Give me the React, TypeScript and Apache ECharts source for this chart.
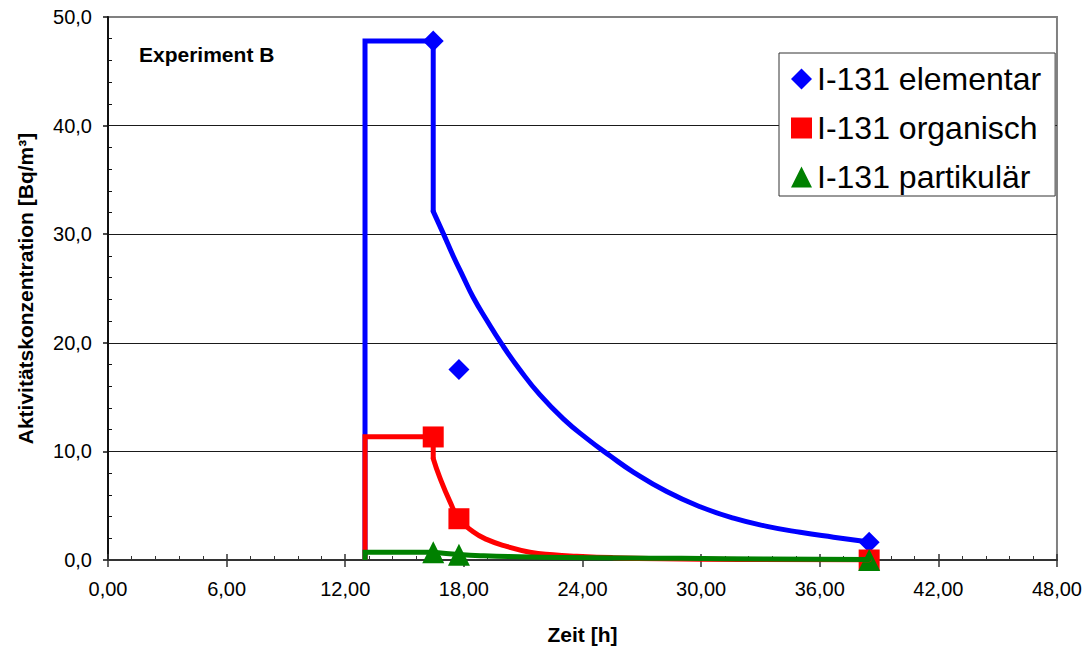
import React, { useEffect, useRef } from 'react';
import * as echarts from 'echarts';

const seriesNames = ['I-131 elementar', 'I-131 organisch', 'I-131 partikulär'];

const xTickLabels = ['0,00', '6,00', '12,00', '18,00', '24,00', '30,00', '36,00', '42,00', '48,00'];
const yTickLabels = ['0,0', '10,0', '20,0', '30,0', '40,0', '50,0'];

// measured samples (time [h])
const sampleTimes = [16.45, 17.75, 38.5];
const elementarValues = [47.8, 17.55, 1.64];
const organischValues = [11.33, 3.8, 0];
const partikularValues = [0.72, 0.48, 0];

// step parts of the fitted curves
const elementarStepX = [13, 13, 16.45, 16.45];
const elementarStepY = [0, 47.8, 47.8, 32.1];
const organischStepX = [13, 13, 16.45, 16.45];
const organischStepY = [0, 11.36, 11.36, 9.34];
const partikularStepX = [13, 13, 16.45];
const partikularStepY = [0, 0.72, 0.72];

// decay parts of the fitted curves
const elementarCurveX = [16.45, 16.95, 17.46, 17.96, 18.47, 19.15, 19.91, 20.84, 21.85, 23.03, 24.21, 25.39, 26.57, 28.26, 29.95, 31.64, 33.33, 35.01, 36.7, 38.5];
const elementarCurveY = [32.1, 30.1, 28.0, 26.1, 24.2, 22.1, 19.9, 17.5, 15.2, 13.0, 11.2, 9.6, 8.1, 6.3, 4.9, 3.85, 3.1, 2.55, 2.1, 1.65];
const organischCurveX = [16.45, 16.78, 17.29, 17.75, 18.47, 19.15, 20.16, 21.34, 22.52, 23.71, 25.5, 28, 32, 38.5];
const organischCurveY = [9.34, 7.6, 5.4, 3.8, 2.6, 1.9, 1.25, 0.72, 0.48, 0.35, 0.22, 0.12, 0.05, 0];
const partikularCurveX = [16.45, 17.75, 19, 20.8, 23, 25.9, 29, 33.3, 38.5];
const partikularCurveY = [0.72, 0.5, 0.38, 0.3, 0.24, 0.19, 0.15, 0.1, 0.05];

const colors = ['#0000FF', '#FF0000', '#008000'];
const symbols = ['diamond', 'rect', 'triangle'];
const symbolSizes = [21, 21, 22];

const FONT = "'Liberation Sans', Arial, sans-serif";

const zip = (xs: number[], ys: number[]) => xs.map((x, i) => [x, ys[i]]);

export default function App() {
  const ref = useRef<HTMLDivElement>(null);

  useEffect(() => {
    if (!ref.current) return;
    const chart = echarts.init(ref.current, null, { renderer: 'svg' });

    const steps = [
      zip(elementarStepX, elementarStepY),
      zip(organischStepX, organischStepY),
      zip(partikularStepX, partikularStepY),
    ];
    const curves = [
      zip(elementarCurveX, elementarCurveY),
      zip(organischCurveX, organischCurveY),
      zip(partikularCurveX, partikularCurveY),
    ];
    const samples = [
      zip(sampleTimes, elementarValues),
      zip(sampleTimes, organischValues),
      zip(sampleTimes, partikularValues),
    ];

    const series: any[] = [];
    for (let i = 0; i < 3; i++) {
      series.push({
        name: seriesNames[i] + ' step',
        type: 'line',
        data: steps[i],
        showSymbol: false,
        symbol: 'none',
        lineStyle: { color: colors[i], width: 5, join: 'miter', cap: 'butt' },
        silent: true,
      });
      series.push({
        name: seriesNames[i] + ' fit',
        type: 'line',
        data: curves[i],
        smooth: 0.5,
        showSymbol: false,
        symbol: 'none',
        lineStyle: { color: colors[i], width: 5, cap: 'round', join: 'round' },
        silent: true,
      });
      series.push({
        name: seriesNames[i],
        type: 'scatter',
        data: samples[i],
        symbol: symbols[i],
        symbolSize: symbolSizes[i],
        itemStyle: { color: colors[i], opacity: 1 },
        silent: true,
      });
    }

    const option: any = {
      animation: false,
      backgroundColor: '#ffffff',
      textStyle: { fontFamily: FONT },
      grid: {
        left: 108,
        right: 28,
        top: 17,
        bottom: 90,
        show: true,
        borderColor: '#808080',
        borderWidth: 2,
        backgroundColor: '#ffffff',
      },
      legend: {
        orient: 'vertical',
        left: 779,
        top: 53,
        itemWidth: 21,
        itemHeight: 21,
        itemGap: 17,
        padding: [10, 14, 3, 12],
        borderColor: '#333333',
        borderWidth: 1,
        backgroundColor: '#ffffff',
        selectedMode: false,
        textStyle: { fontFamily: FONT, fontSize: 32, color: '#000000' },
        data: seriesNames.map((n, i) => ({ name: n, icon: symbols[i] })),
      },
      graphic: [
        {
          type: 'text',
          left: 139,
          top: 44,
          style: {
            text: 'Experiment B',
            font: `bold 21px ${FONT}`,
            fill: '#000000',
          },
        },
      ],
      xAxis: [
        {
          type: 'value',
          min: 0,
          max: 48,
          interval: 6,
          position: 'bottom',
          name: 'Zeit [h]',
          nameLocation: 'middle',
          nameGap: 64,
          nameTextStyle: { fontFamily: FONT, fontSize: 21, fontWeight: 'bold', color: '#000' },
          axisLine: { show: true, onZero: false, lineStyle: { color: '#333333', width: 2 } },
          axisTick: { show: true, inside: false, length: 7, lineStyle: { color: '#333333', width: 1.5 } },
          axisLabel: {
            margin: 19,
            fontFamily: FONT,
            fontSize: 20,
            color: '#000',
            formatter: (v: number) => xTickLabels[Math.round(v / 6)] ?? '',
          },
          splitLine: { show: false },
        },
        {
          type: 'value',
          min: 0,
          max: 48,
          interval: 6,
          position: 'bottom',
          axisLine: { show: false, onZero: false },
          axisTick: { show: true, inside: true, length: 6, lineStyle: { color: '#333333', width: 1.5 } },
          minorTick: { show: true, splitNumber: 5, length: 4, lineStyle: { color: '#333333', width: 1 } },
          axisLabel: { show: false },
          splitLine: { show: false },
        },
      ],
      yAxis: [
        {
          type: 'value',
          min: 0,
          max: 50,
          interval: 10,
          position: 'left',
          name: 'Aktivitätskonzentration [Bq/m³]',
          nameLocation: 'middle',
          nameGap: 72,
          nameTextStyle: { fontFamily: FONT, fontSize: 21, fontWeight: 'bold', color: '#000' },
          axisLine: { show: true, onZero: false, lineStyle: { color: '#111111', width: 2 } },
          axisTick: { show: true, inside: false, length: 5, lineStyle: { color: '#111111', width: 1.5 } },
          axisLabel: {
            margin: 16,
            fontFamily: FONT,
            fontSize: 20,
            color: '#000',
            formatter: (v: number) => yTickLabels[Math.round(v / 10)] ?? '',
          },
          splitLine: {
            show: true,
            showMinLine: false,
            showMaxLine: false,
            lineStyle: { color: '#1a1a1a', width: 1 },
          },
        },
        {
          type: 'value',
          min: 0,
          max: 50,
          interval: 10,
          position: 'left',
          axisLine: { show: false, onZero: false },
          axisTick: { show: false, inside: true },
          minorTick: { show: true, splitNumber: 5, length: 4, lineStyle: { color: '#111111', width: 1 } },
          axisLabel: { show: false },
          splitLine: { show: false },
        },
      ],
      series,
    };

    chart.setOption(option);
    return () => chart.dispose();
  }, []);

  return (
    <div
      ref={ref}
      style={{ position: 'fixed', left: 0, top: 0, width: 1085, height: 650, background: '#fff' }}
    />
  );
}
